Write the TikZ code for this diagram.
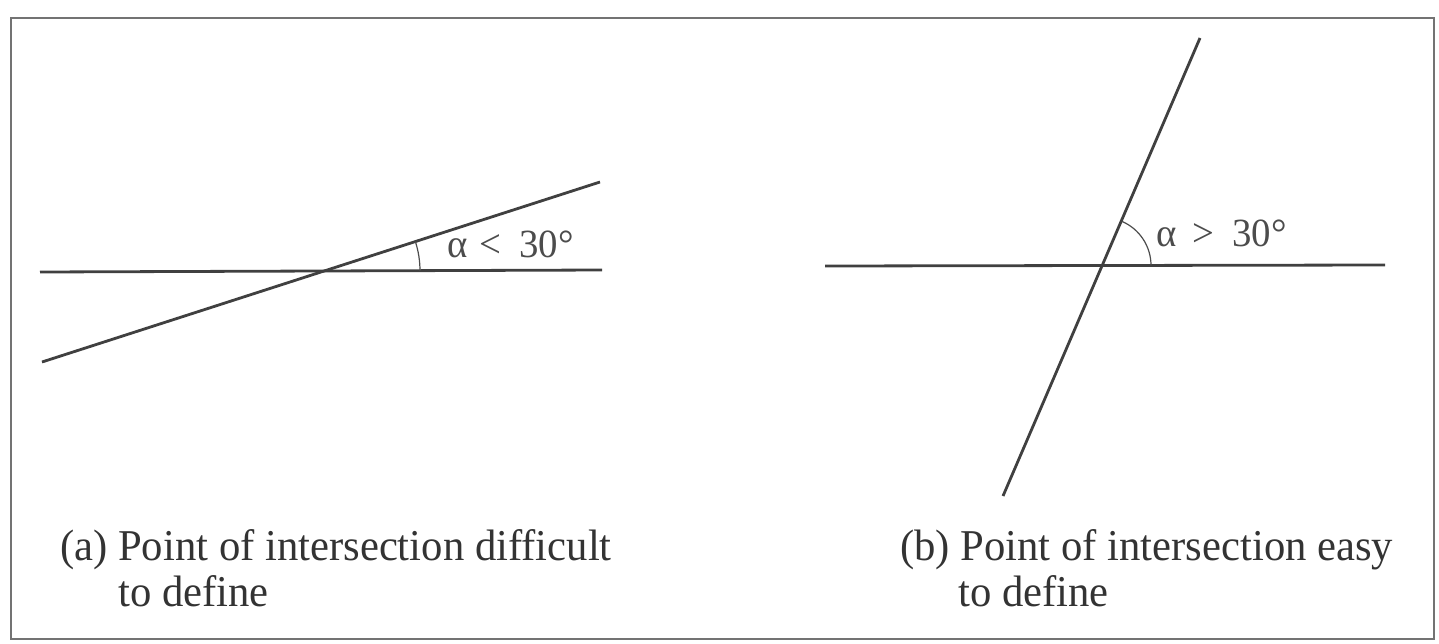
\documentclass[tikz,border=0pt]{standalone}
\usepackage{fontspec}
\setmainfont{Liberation Serif}
\newfontfamily\capfont[FakeStretch=0.97]{Liberation Serif}
\begin{document}
\begin{tikzpicture}[x=1pt,y=-1pt,
  ln/.style={line width=2.8pt,draw=black!75},
  arcln/.style={line width=1.2pt,draw=black!70},
  lbl/.style={font=\capfont\fontsize{40}{42}\selectfont,text=black!70,inner sep=0pt},
  captxt/.style={font=\capfont\fontsize{44}{46}\selectfont,text=black!80,inner sep=0pt}]
\useasboundingbox (0,0) rectangle (1439,643);
\draw[line width=2.2pt,draw=black!55] (11,18) rectangle (1434,639);
% (a)
\coordinate (a1) at (40,272);
\coordinate (a2) at (602,270);
\coordinate (b1) at (42,362);
\coordinate (b2) at (600,182);
\draw[ln] (a1) -- (a2);
\draw[ln] (b1) -- (b2);
\coordinate (ia) at (324,271);
\draw[arcln] ([shift={(0:96)}]ia) arc[start angle=0,end angle=-17.8,radius=96];
\node[lbl,anchor=base west] (ta) at (447,257) {α\hspace{0.3em}<\hspace{0.45em}30°};
% (b)
\coordinate (c1) at (825,266);
\coordinate (c2) at (1385,265);
\coordinate (d1) at (1003,496);
\coordinate (d2) at (1200,38);
\draw[ln] (c1) -- (c2);
\draw[ln] (d1) -- (d2);
\coordinate (ib) at (1103,265.5);
\draw[arcln] ([shift={(0:48)}]ib) arc[start angle=0,end angle=-66.9,radius=48];
\node[lbl,anchor=base west] (tb) at (1156,246) {α\hspace{0.4em}>\hspace{0.45em}30°};
% captions
\node[captxt,anchor=base west] (capa) at (60,560) {(a) Point of intersection difficult};
\node[captxt,anchor=base west] (capa2) at (118,606) {to define};
\node[captxt,anchor=base west] (capb) at (900,560) {(b) Point of intersection easy};
\node[captxt,anchor=base west] (capb2) at (958,606) {to define};
\end{tikzpicture}
\end{document}
